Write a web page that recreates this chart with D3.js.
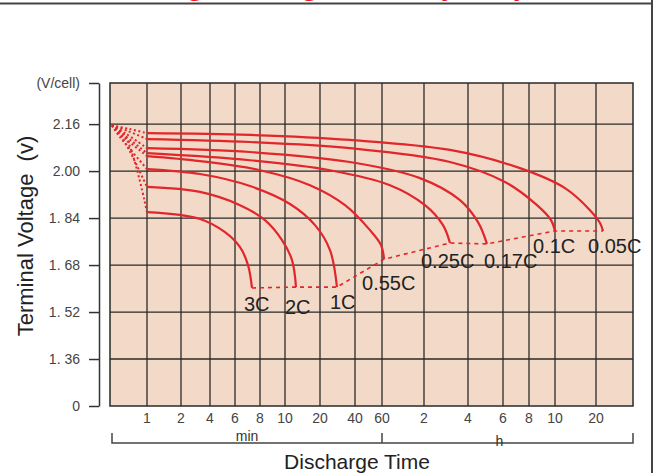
<!DOCTYPE html>
<html lang="en">
<head>
<meta charset="UTF-8">
<title>Discharge Characteristics</title>
<script src="https://d3js.org/d3.v7.min.js"></script>
<style>
    body { margin: 0; background: #fff; }
    svg { display: block; font-family: "Liberation Sans", Arial, sans-serif; }
</style>
</head>
<body>
<div id="chart"></div>
<script>
    // discharge rates, in the order the end line joins them
    const rates = ["3C", "2C", "1C", "0.55C", "0.25C", "0.17C", "0.1C", "0.05C"];

    // [time (min), voltage (V/cell)]
    const curve3C   = [[0.05, 2.155], [0.41, 2.119], [1, 1.860], [3.31, 1.837], [5.2, 1.792], [6.4, 1.741], [7.04, 1.680], [7.36, 1.602]];
    const curve2C   = [[0.05, 2.155], [0.32, 2.116], [1, 1.946], [3.31, 1.929], [6.4, 1.884], [8.4, 1.833], [9.76, 1.765], [12.0, 1.697], [13.14, 1.605]];
    const curve1C   = [[0.05, 2.155], [0.27, 2.116], [1, 2.007], [3.31, 1.990], [7.2, 1.949], [11.43, 1.888], [18.57, 1.816], [25.7, 1.731], [29.7, 1.605]];
    const curve055C = [[0.05, 2.155], [0.30, 2.123], [1, 2.051], [3.31, 2.034], [8, 2.003], [17.14, 1.952], [34.3, 1.884], [51.1, 1.799], [59.3, 1.748], [62.9, 1.700]];
    const curve025C = [[0.05, 2.155], [0.35, 2.126], [1, 2.061], [7.2, 2.037], [25.7, 2.003], [71.4, 1.952], [122.7, 1.884], [171.8, 1.816], [190.9, 1.755]];
    const curve017C = [[0.05, 2.155], [0.41, 2.129], [1, 2.078], [7.2, 2.065], [37.1, 2.031], [114.3, 1.976], [218.2, 1.901], [274.3, 1.826], [305, 1.752]];
    const curve01C  = [[0.05, 2.155], [0.49, 2.136], [1, 2.109], [7.2, 2.099], [37.1, 2.078], [190.9, 2.031], [369.2, 1.963], [516.9, 1.884], [581.5, 1.833], [600, 1.796]];
    const curve005C = [[0.05, 2.155], [0.54, 2.143], [1, 2.129], [7.2, 2.123], [37.1, 2.106], [190.9, 2.072], [438.5, 2.010], [746.3, 1.942], [1112, 1.867], [1264.9, 1.823], [1313.5, 1.796]];
    const curves = [curve3C, curve2C, curve1C, curve055C, curve025C, curve017C, curve01C, curve005C];

    // axis ticks
    const timeTicks  = [1, 2, 4, 6, 8, 10, 20, 40, 60, 120, 240, 360, 480, 600, 1200];
    const timeLabels = ["1", "2", "4", "6", "8", "10", "20", "40", "60", "2", "4", "6", "8", "10", "20"];
    const voltTicks  = [2.30, 2.16, 2.00, 1.84, 1.68, 1.52, 1.36, 1.20];
    const voltLabels = ["(V/cell)", "2.16", "2.00", "1. 84", "1. 68", "1. 52", "1. 36", "0"];

    const width = 655, height = 473;
    const plot = { left: 110, right: 633, top: 83, bottom: 406 };
    // the time axis is hand-spaced: widths of the grid columns, left to right
    const colWidths = [37, 34, 29, 25, 25, 25, 35, 35, 27, 42, 44, 35, 26, 26, 41, 37];
    // label offsets from each curve's end point
    const labelOffsets = [[-8, 23], [-11, 27], [-7, 22], [-22, 31], [-29, 25], [-3, 24], [-22, 22], [-15, 22]];

    const red = "#e1262c";
    const ink = "#333";

    const xRange = [plot.left];
    colWidths.forEach(w => xRange.push(xRange[xRange.length - 1] + w));
    const x = d3.scaleLinear()
        .domain([0, ...timeTicks, 1800])
        .range(xRange);
    const y = d3.scaleLinear()
        .domain([1.20, 2.30])
        .range([plot.bottom, plot.top]);

    const svg = d3.select("#chart").append("svg")
        .attr("width", width)
        .attr("height", height);

    // title (mostly above the visible area)
    svg.append("text")
        .attr("x", 300).attr("y", -5)
        .attr("text-anchor", "middle")
        .attr("font-size", 30).attr("font-weight", "bold")
        .attr("fill", "#f0141e")
        .text("Discharge Voltage Curve (25°C)");

    // outer frame
    svg.append("line").attr("x1", 0).attr("x2", 652).attr("y1", 3.5).attr("y2", 3.5)
        .attr("stroke", "#444").attr("stroke-width", 2);
    svg.append("line").attr("x1", 652).attr("x2", 652).attr("y1", 0).attr("y2", height)
        .attr("stroke", "#444").attr("stroke-width", 2);

    // plot background
    svg.append("rect")
        .attr("x", plot.left).attr("y", plot.top)
        .attr("width", plot.right - plot.left).attr("height", plot.bottom - plot.top)
        .attr("fill", "#f3d9c7");

    // grid
    const grid = svg.append("g").attr("stroke", "#2a2a2a").attr("stroke-width", 1.3);
    grid.selectAll(".h").data(voltTicks.slice(1, -1)).enter().append("line")
        .attr("x1", plot.left).attr("x2", plot.right)
        .attr("y1", d => y(d)).attr("y2", d => y(d));
    grid.selectAll(".v").data(timeTicks).enter().append("line")
        .attr("y1", plot.top).attr("y2", plot.bottom)
        .attr("x1", d => x(d)).attr("x2", d => x(d));
    svg.append("rect")
        .attr("x", plot.left).attr("y", plot.top)
        .attr("width", plot.right - plot.left).attr("height", plot.bottom - plot.top)
        .attr("fill", "none").attr("stroke", "#2a2a2a").attr("stroke-width", 1.5);

    // y axis, detached from the plot
    const yAxis = svg.append("g")
        .attr("transform", "translate(99,0)")
        .call(d3.axisLeft(y).tickValues(voltTicks)
            .tickFormat((d, i) => voltLabels[i])
            .tickSize(10).tickSizeOuter(0).tickPadding(9));
    yAxis.select(".domain").attr("stroke", ink).attr("stroke-width", 1.5);
    yAxis.selectAll(".tick line").attr("stroke", ink).attr("stroke-width", 1.5);
    yAxis.selectAll(".tick text").attr("fill", "#444").attr("font-size", 14)
        .attr("font-family", "Liberation Sans, Arial, sans-serif");

    svg.append("text")
        .attr("transform", "translate(33,236) rotate(-90)")
        .attr("text-anchor", "middle")
        .attr("font-size", 22).attr("fill", "#222")
        .attr("xml:space", "preserve")
        .text("Terminal Voltage  (v)");

    // x tick labels
    svg.append("g").selectAll("text").data(timeTicks).enter().append("text")
        .attr("x", d => x(d)).attr("y", 423)
        .attr("text-anchor", "middle")
        .attr("font-size", 14).attr("fill", "#444")
        .text((d, i) => timeLabels[i]);

    // min / h brackets
    const bracket = svg.append("g").attr("stroke", "#444").attr("stroke-width", 1.5).attr("fill", "none");
    const bx0 = plot.left + 2, bx1 = x(60), bx2 = plot.right;
    bracket.append("path").attr("d", `M${bx0},433V443H${bx2}V433`);
    bracket.append("line").attr("x1", bx1).attr("x2", bx1).attr("y1", 433).attr("y2", 443);
    svg.append("text").attr("x", (bx0 + bx1) / 2).attr("y", 441)
        .attr("text-anchor", "middle").attr("font-size", 14).attr("fill", "#333").text("min");
    svg.append("text").attr("x", (bx1 + bx2) / 2 - 8).attr("y", 446)
        .attr("text-anchor", "middle").attr("font-size", 14).attr("fill", "#333").text("h");

    svg.append("text")
        .attr("x", 357).attr("y", 469)
        .attr("text-anchor", "middle")
        .attr("font-size", 21).attr("fill", "#222")
        .text("Discharge Time");

    // curves
    const line = d3.line()
        .x(d => x(d[0]))
        .y(d => y(d[1]))
        .curve(d3.curveCatmullRom.alpha(0.5));

    const curveG = svg.append("g").attr("fill", "none").attr("stroke", red);
    curves.forEach(c => {
        curveG.append("path")
            .attr("d", line(c.filter(p => p[0] <= 1)))
            .attr("stroke-width", 2)
            .attr("stroke-dasharray", "2,2.5");
        curveG.append("path")
            .attr("d", line(c.filter(p => p[0] >= 1)))
            .attr("stroke-width", 2.2);
    });

    // dashed line joining the end points
    const ends = curves.map(c => c[c.length - 1]);
    curveG.append("path")
        .attr("d", d3.line().x(d => x(d[0])).y(d => y(d[1]))(ends))
        .attr("stroke-width", 1.6)
        .attr("stroke-dasharray", "4,4");

    // rate labels
    svg.append("g").selectAll("text").data(rates).enter().append("text")
        .attr("x", (d, i) => x(ends[i][0]) + labelOffsets[i][0])
        .attr("y", (d, i) => y(ends[i][1]) + labelOffsets[i][1])
        .attr("font-size", 20).attr("fill", "#222")
        .text(d => d);
</script>
</body>
</html>
